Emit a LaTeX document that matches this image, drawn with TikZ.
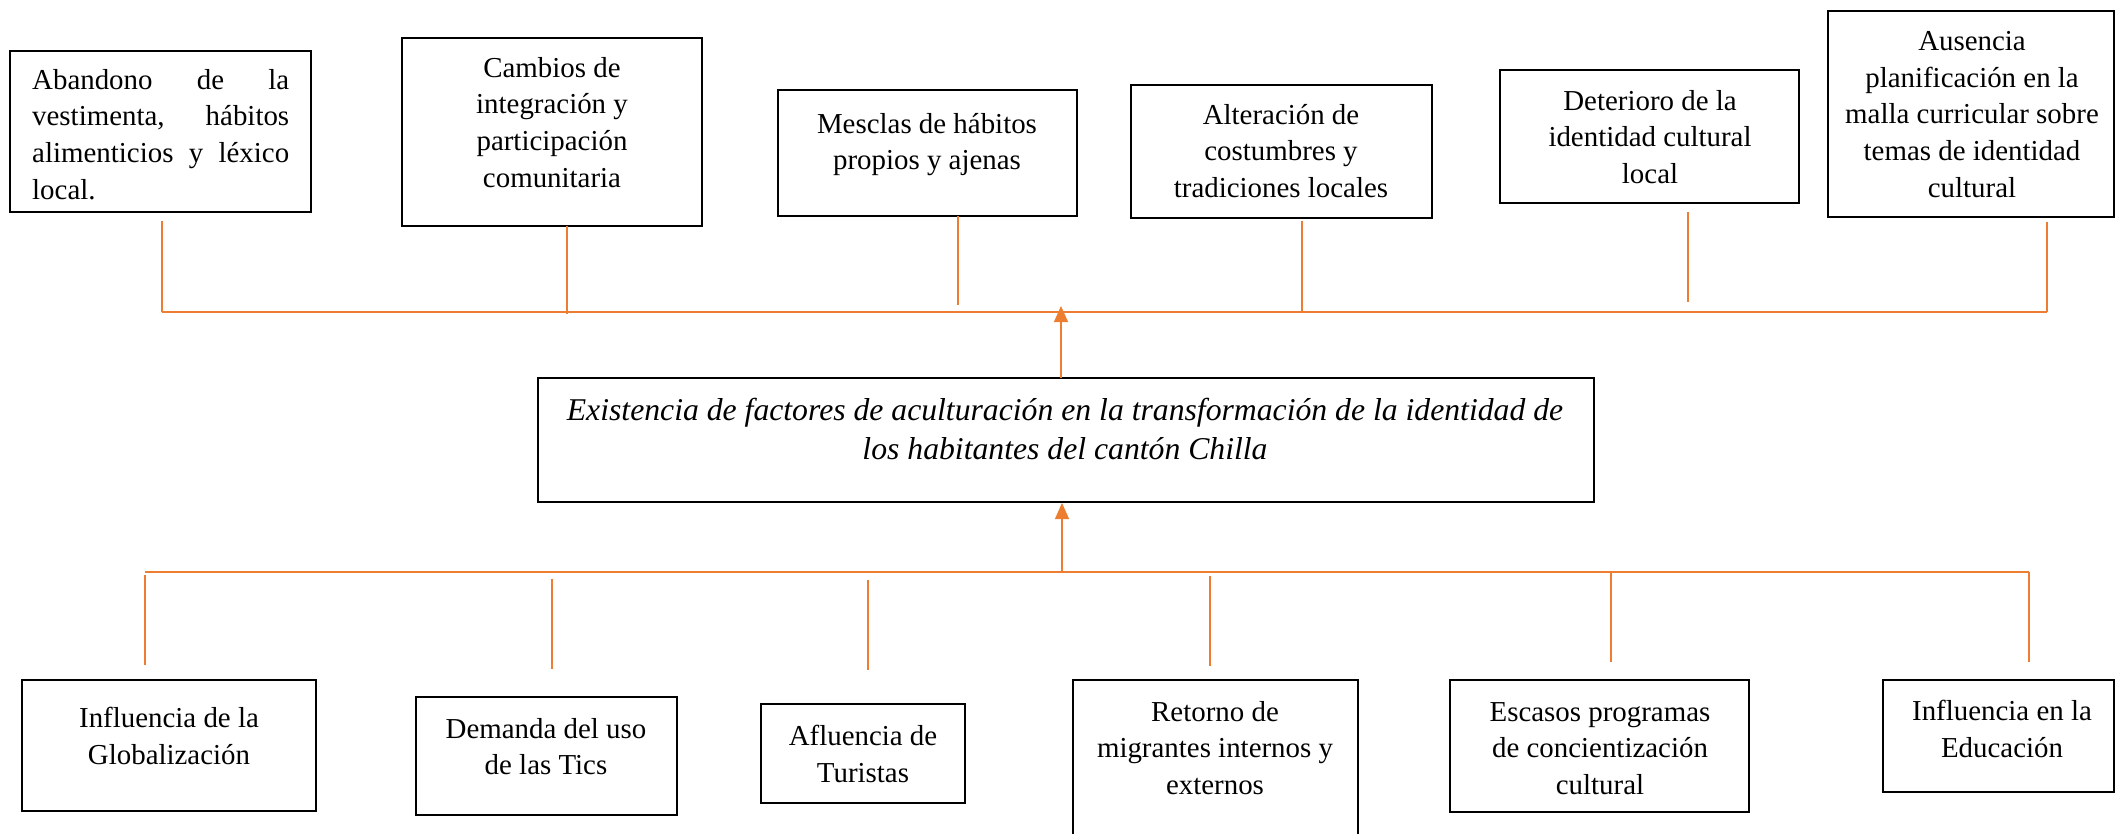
\documentclass[tikz,border=0pt]{standalone}
\usepackage{fontspec}
\setmainfont{Liberation Serif}
\usetikzlibrary{arrows.meta,fit}
\definecolor{conn}{HTML}{ED7D31}
\tikzset{
  box/.style={draw=black, line width=2.5pt, inner sep=0pt},
  txt/.style={inner sep=0pt, anchor=north, align=center, font=\fontsize{28.9}{36.7}\selectfont},
  feeder/.style={draw=conn, line width=1.3pt},
  bus/.style={draw=conn, line width=1.8pt},
  uparrow/.style={draw=conn, line width=1.3pt, -{Triangle[length=16pt,width=14pt,fill=conn]}},
}
\begin{document}
\begin{tikzpicture}[x=1pt,y=-1pt]
\useasboundingbox (0,0) rectangle (2117,833);
% top boxes
\node[box, fit={(10,51) (311,212)}] (t1) {};
\node[box, fit={(402,38) (702,226)}] (t2) {};
\node[box, fit={(778,90) (1077,216)}] (t3) {};
\node[box, fit={(1131,85) (1432,218)}] (t4) {};
\node[box, fit={(1500,70) (1799,203)}] (t5) {};
\node[box, fit={(1828,11) (2114,217)}] (t6) {};
\node[txt, anchor=north west, align=left] (t1x) at (32,69) {\hbox to 257pt{Abandono\hfill de\hfill la}\\\hbox to 257pt{vestimenta,\hfill hábitos}\\\hbox to 257pt{alimenticios\hfill y\hfill léxico}\\local.};
\node[txt] (t2x) at (552,57) {Cambios de\\integración y\\participación\\comunitaria};
\node[txt] (t3x) at (927,113) {Mesclas de hábitos\\propios y ajenas};
\node[txt] (t4x) at (1281,104) {Alteración de\\costumbres y\\tradiciones locales};
\node[txt] (t5x) at (1650,90) {Deterioro de la\\identidad cultural\\local};
\node[txt] (t6x) at (1972,31) {Ausencia\\planificación en la\\malla curricular sobre\\temas de identidad\\cultural};
% center box
\node[box, fit={(538,378) (1594,502)}] (c) {};
\node[txt, font=\fontsize{31.7}{39}\selectfont\itshape] (cx) at (1065,398) {Existencia de factores de aculturación en la transformación de la identidad de\\los habitantes del cantón Chilla};
% bottom boxes
\node[box, fit={(22,680) (316,811)}] (b1) {};
\node[box, fit={(416,697) (677,815)}] (b2) {};
\node[box, fit={(761,704) (965,803)}] (b3) {};
\node[box, fit={(1073,680) (1358,836)}] (b4) {};
\node[box, fit={(1450,680) (1749,812)}] (b5) {};
\node[box, fit={(1883,680) (2114,792)}] (b6) {};
\node[txt] (b1x) at (169,707) {Influencia de la\\Globalización};
\node[txt] (b2x) at (546,718) {Demanda del uso\\de las Tics};
\node[txt] (b3x) at (863,725) {Afluencia de\\Turistas};
\node[txt] (b4x) at (1215,701) {Retorno de\\migrantes internos y\\externos};
\node[txt] (b5x) at (1600,702) {Escasos programas\\de concientización\\cultural};
\node[txt] (b6x) at (2002,700) {Influencia en la\\Educación};
% top connectors
\coordinate (tf1) at (162,221); \coordinate (tj1) at (162,312);
\coordinate (tf2) at (567,226); \coordinate (tj2) at (567,314);
\coordinate (tf3) at (958,216); \coordinate (tj3) at (958,305);
\coordinate (tf4) at (1302,221); \coordinate (tj4) at (1302,312);
\coordinate (tf5) at (1688,212); \coordinate (tj5) at (1688,302);
\coordinate (tf6) at (2047,222); \coordinate (tj6) at (2047,312);
\foreach \i in {1,...,6} {\draw[feeder] (tf\i) -- (tj\i);}
\draw[bus] (tj1) -- (tj6);
\coordinate (ctop) at (1061,378); \coordinate (ctip) at (1061,306);
\draw[uparrow] (ctop) -- (ctip);
% bottom connectors
\coordinate (bbusl) at (145,572); \coordinate (bbusr) at (2029,572);
\draw[bus] (bbusl) -- (bbusr);
\coordinate (bs) at (1062,572); \coordinate (btip) at (1062,503);
\draw[uparrow] (bs) -- (btip);
\coordinate (bj1) at (145,575); \coordinate (bf1) at (145,665);
\coordinate (bj2) at (552,579); \coordinate (bf2) at (552,669);
\coordinate (bj3) at (868,580); \coordinate (bf3) at (868,670);
\coordinate (bj4) at (1210,576); \coordinate (bf4) at (1210,666);
\coordinate (bj5) at (1611,572); \coordinate (bf5) at (1611,662);
\coordinate (bj6) at (2029,572); \coordinate (bf6) at (2029,662);
\foreach \i in {1,...,6} {\draw[feeder] (bj\i) -- (bf\i);}
\end{tikzpicture}
\end{document}
